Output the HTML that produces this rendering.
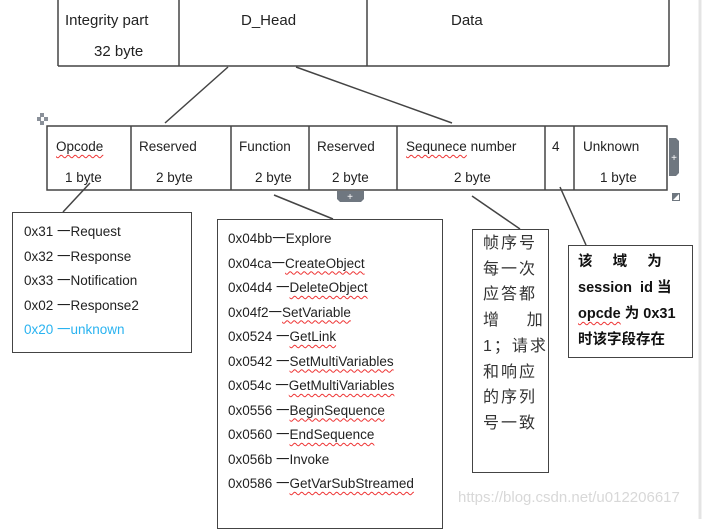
<!DOCTYPE html>
<html><head><meta charset="utf-8"><style>
body{margin:0;width:703px;height:519px;background:#fff;position:relative;overflow:hidden;font-family:"Liberation Sans","Noto Sans CJK SC",sans-serif;color:#222;}
.a{position:absolute;}
.t{position:absolute;font-size:13.5px;white-space:nowrap;}
.box{position:absolute;border:1.5px solid #444;box-sizing:border-box;background:#fff;}
.u{text-decoration:underline wavy #e33;text-decoration-thickness:1px;text-underline-offset:3px;}
.cn{font-size:16px;letter-spacing:2px;line-height:25.7px;color:#333;}
</style></head><body>
<svg class="a" style="left:0;top:0" width="703" height="519">
<line x1="700" y1="0" x2="700" y2="519" stroke="#e4e4e4" stroke-width="3"/>
<g stroke="#444" stroke-width="1.5" fill="none">
<line x1="58" y1="0" x2="58" y2="66"/><line x1="179" y1="0" x2="179" y2="66"/><line x1="367" y1="0" x2="367" y2="66"/><line x1="669" y1="0" x2="669" y2="66"/>
<line x1="58" y1="66" x2="669" y2="66"/>
<rect x="47" y="126" width="620" height="64"/>
<line x1="131" y1="126" x2="131" y2="190"/><line x1="231" y1="126" x2="231" y2="190"/><line x1="309" y1="126" x2="309" y2="190"/><line x1="397" y1="126" x2="397" y2="190"/><line x1="545" y1="126" x2="545" y2="190"/><line x1="574" y1="126" x2="574" y2="190"/>
<line x1="228" y1="67" x2="165" y2="123"/>
<line x1="296" y1="67" x2="452" y2="123"/>
<line x1="90" y1="183" x2="63" y2="212"/>
<line x1="274" y1="195" x2="333" y2="219"/>
<line x1="472" y1="196" x2="520" y2="229"/>
<line x1="560" y1="187" x2="586" y2="245"/>
</g>
<g fill="#8a9099"><rect x="37" y="117" width="4" height="4"/><rect x="44" y="117" width="4" height="4"/><rect x="40" y="113" width="4" height="4"/><rect x="40" y="121" width="4" height="4"/></g>
<path d="M337 191 h27 v8 l-3 3 h-21 l-3 -3z" fill="#6f7780"/><text x="350" y="200" font-size="10" fill="#fff" text-anchor="middle">+</text>
<path d="M669 138 h7 l3 3 v32 l-3 3 h-7z" fill="#6f7780"/><text x="674" y="161" font-size="10" fill="#fff" text-anchor="middle">+</text>
<path d="M672 193 h8 v8 h-8z" fill="#6f7780"/><path d="M673 200 l6 -6 v6z" fill="#fff"/>
</svg>
<div class="t" style="left:65px;top:12px;font-size:15px">Integrity part</div>
<div class="t" style="left:94px;top:43px;font-size:15px">32 byte</div>
<div class="t" style="left:241px;top:12px;font-size:15px">D_Head</div>
<div class="t" style="left:451px;top:12px;font-size:15px">Data</div>

<div class="t" style="left:56px;top:139px"><span class="u">Opcode</span></div>
<div class="t" style="left:65px;top:170px">1 byte</div>
<div class="t" style="left:139px;top:139px">Reserved</div>
<div class="t" style="left:156px;top:170px">2 byte</div>
<div class="t" style="left:239px;top:139px">Function</div>
<div class="t" style="left:255px;top:170px">2 byte</div>
<div class="t" style="left:317px;top:139px">Reserved</div>
<div class="t" style="left:332px;top:170px">2 byte</div>
<div class="t" style="left:406px;top:139px"><span class="u">Sequnece</span> number</div>
<div class="t" style="left:454px;top:170px">2 byte</div>
<div class="t" style="left:552px;top:139px">4</div>
<div class="t" style="left:583px;top:139px">Unknown</div>
<div class="t" style="left:600px;top:170px">1 byte</div>

<div class="box" style="left:12px;top:212px;width:180px;height:141px"></div>
<div class="t" style="left:24px;top:220px;line-height:24.5px">0x31 一Request<br>0x32 一Response<br>0x33 一Notification<br>0x02 一Response2<br><span style="color:#2ab3f0">0x20 一unknown</span></div>

<div class="box" style="left:217px;top:219px;width:226px;height:310px"></div>
<div class="t" style="left:228px;top:227px;line-height:24.5px">0x04bb一Explore<br>0x04ca一<span class="u">CreateObject</span><br>0x04d4 一<span class="u">DeleteObject</span><br>0x04f2一<span class="u">SetVariable</span><br>0x0524 一<span class="u">GetLink</span><br>0x0542 一<span class="u">SetMultiVariables</span><br>0x054c 一<span class="u">GetMultiVariables</span><br>0x0556 一<span class="u">BeginSequence</span><br>0x0560 一<span class="u">EndSequence</span><br>0x056b 一Invoke<br>0x0586 一<span class="u">GetVarSubStreamed</span></div>

<div class="box" style="left:472px;top:229px;width:77px;height:244px"></div>
<div class="t cn" style="left:483px;top:231px">帧序号<br>每一次<br>应答都<br>增&nbsp;&nbsp;&nbsp;&nbsp;加<br>1；请求<br>和响应<br>的序列<br>号一致</div>

<div class="box" style="left:568px;top:245px;width:125px;height:113px"></div>
<div class="t" style="left:578px;top:249px;font-weight:bold;font-size:14.5px;line-height:26px;color:#111">该&nbsp;&nbsp;&nbsp;&nbsp;&nbsp;域&nbsp;&nbsp;&nbsp;&nbsp;&nbsp;为<br>session&nbsp; id 当<br><span class="u">opcde</span> 为 0x31<br>时该字段存在</div>

<div class="t" style="left:458px;top:489px;font-size:15px;color:#d8d8d8">https://blog.csdn.net/u012206617</div>
</body></html>
